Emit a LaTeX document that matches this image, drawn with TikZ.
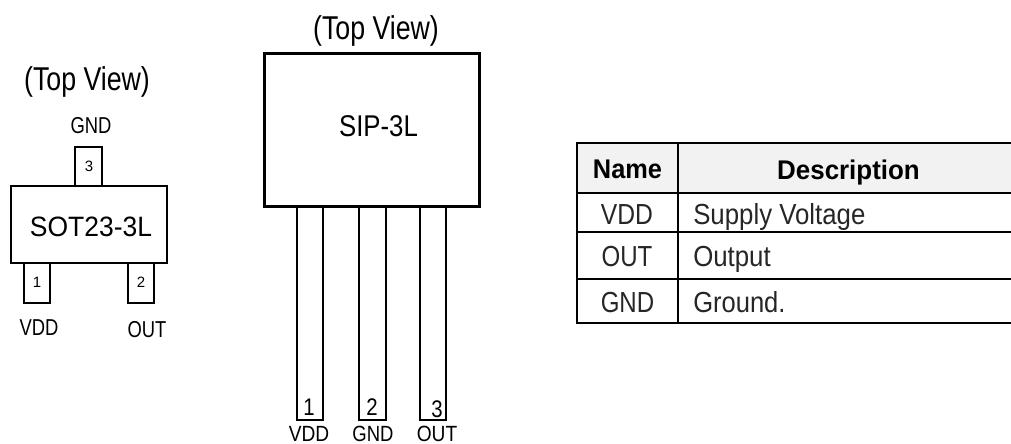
\documentclass[tikz,border=0pt]{standalone}
\usepackage{fontspec}
\usepackage{graphicx}
\setmainfont{Liberation Sans}
\newcommand{\tx}[3]{\scalebox{#2}[1]{\fontsize{\dimexpr#1pt*3/4\relax}{\dimexpr#1pt*3/4\relax}\selectfont #3}}
\definecolor{headfill}{HTML}{F2F2F2}
\tikzset{
  thinline/.style={draw=black,line width=1.5*0.75pt},
  boldline/.style={draw=black,line width=3*0.75pt},
  tabline/.style={draw=black,line width=2*0.75pt},
  lbl/.style={inner sep=0pt,anchor=base,text=black},
  cell/.style={inner sep=0pt,anchor=base,text=black!85},
  cellw/.style={inner sep=0pt,anchor=base west,text=black!85}
}
\begin{document}
\begin{tikzpicture}[x=0.75pt,y=-0.75pt]
\useasboundingbox (0,0) rectangle (1011,443);
% SOT23-3L
\draw[thinline] (75,186) rectangle (102,147);
\draw[thinline] (24,263) rectangle (50,303);
\draw[thinline] (128,263) rectangle (154,303);
\draw[thinline] (11,186) rectangle (167,263);
\node[lbl] (sotview) at (87,90) {\tx{33}{.81}{(Top View)}};
\node[lbl] (sotgnd) at (91,133) {\tx{23}{.8}{GND}};
\node[lbl] (sotn3) at (89,171) {\tx{15}{1}{3}};
\node[lbl] (sotname) at (91,236) {\tx{28}{.945}{SOT23-3L}};
\node[lbl] (sotn1) at (37,287) {\tx{15}{1}{1}};
\node[lbl] (sotn2) at (141,287) {\tx{15}{1}{2}};
\node[lbl] (sotvdd) at (39,335) {\tx{23}{.8}{VDD}};
\node[lbl] (sotout) at (147,337) {\tx{23}{.8}{OUT}};
% SIP-3L
\draw[thinline] (297,206) rectangle (323,420);
\draw[thinline] (359,206) rectangle (386,420);
\draw[thinline] (420,206) rectangle (446,420);
\draw[boldline] (264,53) rectangle (479,206);
\node[lbl] (sipview) at (376,39) {\tx{33}{.81}{(Top View)}};
\node[lbl] (sipname) at (378.5,136) {\tx{30}{.86}{SIP-3L}};
\node[lbl] (sipn1) at (309,415) {\tx{24}{.85}{1}};
\node[lbl] (sipn2) at (372,415) {\tx{24}{.85}{2}};
\node[lbl] (sipn3) at (437,417) {\tx{24}{.85}{3}};
\node[lbl] (sipvdd) at (309,441) {\tx{22}{.87}{VDD}};
\node[lbl] (sipgnd) at (373,441) {\tx{22}{.84}{GND}};
\node[lbl] (sipout) at (437,441) {\tx{22}{.87}{OUT}};
% table
\fill[headfill] (577,143) rectangle (1011,193);
\foreach \yy in {143,193,232,279,323} \draw[tabline] (576,\yy) -- (1011,\yy);
\draw[tabline] (577,143) -- (577,323);
\draw[tabline] (678,143) -- (678,323);
\node[lbl] (hname) at (627.5,178) {\tx{27}{.94}{\bfseries Name}};
\node[lbl] (hdesc) at (848.5,179) {\tx{27}{.96}{\bfseries Description}};
\node[cell] (vdd) at (627,224) {\tx{29}{.85}{VDD}};
\node[cell] (out) at (627,266) {\tx{29}{.83}{OUT}};
\node[cell] (gnd) at (627.5,312) {\tx{29}{.83}{GND}};
\node[cellw] (supply) at (693,224) {\tx{29}{.89}{Supply Voltage}};
\node[cellw] (output) at (693,266) {\tx{29}{.89}{Output}};
\node[cellw] (ground) at (693,312) {\tx{29}{.88}{Ground.}};
\end{tikzpicture}
\end{document}
